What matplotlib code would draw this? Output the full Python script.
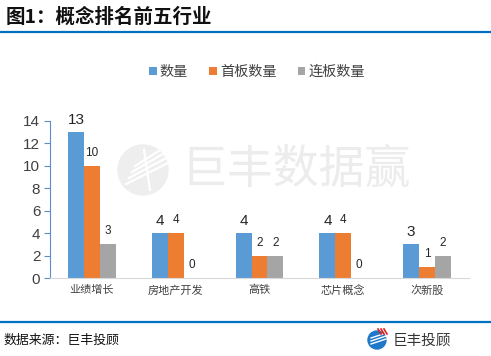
import matplotlib
matplotlib.use("Agg")
import matplotlib.pyplot as plt
import numpy as np
from matplotlib.patches import Circle
from matplotlib.lines import Line2D

plt.rcParams['font.family'] = ['Liberation Sans', 'Noto Sans CJK SC', 'DejaVu Sans']

categories = ['业绩增长', '房地产开发', '高铁', '芯片概念', '次新股']
series_names = ['数量', '首板数量', '连板数量']
count_vals = [13, 4, 4, 4, 3]
first_board_vals = [10, 4, 2, 4, 1]
cont_board_vals = [3, 0, 2, 0, 2]
yticks = [0, 2, 4, 6, 8, 10, 12, 14]
colors = ['#5b9bd5', '#ed7d31', '#a5a5a5']

W, H = 491, 356
fig = plt.figure(figsize=(W / 100, H / 100), dpi=100)
px_tr = fig.dpi_scale_trans  # inches; 1 inch = 100 px


def fx(px):
    return px / W


def fy(py):
    return 1 - py / H


def pin(px, py):
    return (px / 100, (H - py) / 100)


# Header / footer
fig.text(fx(6), fy(17), '图1：概念排名前五行业', fontsize=14, fontweight='bold',
         color='#111111', va='center', ha='left', family=['Noto Sans CJK SC'])
fig.add_artist(Line2D([fx(1), fx(490)], [fy(32), fy(32)], color='#0070c0', lw=1.6))
fig.add_artist(Line2D([fx(1), fx(490)], [fy(322), fy(322)], color='#0070c0', lw=1.6))
fig.text(fx(3), fy(340), '数据来源：巨丰投顾', fontsize=9.3, color='#111111',
         va='center', ha='left', family=['Noto Sans CJK SC'])

# footer logo
fig.add_artist(Circle(pin(377, 340), 0.09, transform=px_tr, color='#1f78c8', zorder=3))
for dy in [-3, 0, 3]:
    xs, ys = zip(pin(371, 341 + dy), pin(386, 336 + dy))
    fig.add_artist(Line2D(xs, ys, transform=px_tr, color='white', lw=1.0, zorder=4))
for dx in [0, 3, 6]:
    xs, ys = zip(pin(378 + dx, 329), pin(381 + dx, 334))
    fig.add_artist(Line2D(xs, ys, transform=px_tr, color='#e02020', lw=1.2, zorder=5))
fig.text(fx(393), fy(341), '巨丰投顾', fontsize=10.5, color='#333333',
         va='center', ha='left', family=['Noto Sans CJK SC'])

# watermark
fig.add_artist(Circle(pin(143, 170), 0.25, transform=px_tr, color='#eeeeee', zorder=0))
for k in range(4):
    xs, ys = zip(pin(126 + k * 3, 184 - k * 6), pin(168, 163 - k * 6))
    fig.add_artist(Line2D(xs, ys, transform=px_tr, color='white', lw=1.6, zorder=0.5))
xs, ys = zip(pin(144, 150), pin(150, 190))
fig.add_artist(Line2D(xs, ys, transform=px_tr, color='white', lw=1.6, zorder=0.5))
fig.text(fx(296), fy(170), '巨丰数据赢', fontsize=33, color='#ececec',
         va='center', ha='center', family=['Noto Sans CJK SC'], zorder=0)

ax = fig.add_axes([fx(50), 1 - 278 / H, 419 / W, 157 / H])
ax.patch.set_alpha(0)

x = np.arange(len(categories))
bw = 0.19
all_vals = [count_vals, first_board_vals, cont_board_vals]
for i, (vals, name, c) in enumerate(zip(all_vals, series_names, colors)):
    ax.bar(x + (i - 1) * bw, vals, bw, color=c, label=name, zorder=2)
    for xi, v in zip(x, vals):
        if i == 0:
            ax.annotate(str(v), (xi + (i - 1) * bw, v), xytext=(0, 4), textcoords='offset points',
                        ha='center', va='bottom', fontsize=11, color='#262626')
        else:
            ax.annotate(str(v), (xi + (i - 1) * bw, v), xytext=(0, 5), textcoords='offset points',
                        ha='center', va='bottom', fontsize=8.5, color='#262626')

ax.set_xlim(-0.5, len(categories) - 0.5)
ax.set_ylim(0, 14)
ax.set_yticks(yticks)
ax.set_xticks(x)
ax.set_xticklabels(categories, fontsize=8, color='#404040', family=['Noto Sans CJK SC'])
ax.tick_params(axis='x', length=0, pad=5)
ax.tick_params(axis='y', direction='out', length=4, color='#5b8fc7', labelsize=11,
               labelcolor='#404040', pad=3)
for s in ['top', 'right']:
    ax.spines[s].set_visible(False)
ax.spines['left'].set_color('#5b8fc7')
ax.spines['bottom'].set_color('#d9d9d9')

leg = ax.legend(loc='center', bbox_to_anchor=(0.494, 1.312), ncol=3, frameon=False,
                handlelength=0.55, handleheight=0.55, handletextpad=0.2,
                columnspacing=1.5, prop={'family': ['Noto Sans CJK SC'], 'size': 10.2})
for t in leg.get_texts():
    t.set_color('#404040')

fig.savefig('out.png', dpi=100)
